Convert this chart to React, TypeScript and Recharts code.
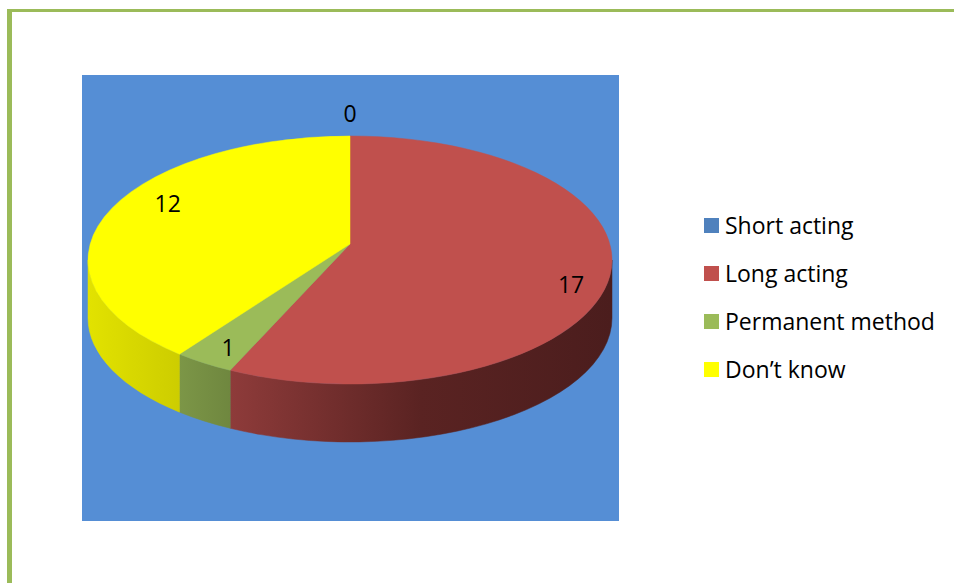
import React from "react";
import { PieChart, Pie, Legend } from "recharts";

const categories = ["Short acting", "Long acting", "Permanent method", "Don’t know"];
const counts = [0, 17, 1, 12];

const topColors = ["#4F81BD", "#C0504D", "#9BBB59", "#FFFF00"];
const wallStops = [
  ["#3A5F8C", "#2B476A"],
  ["#8E3B3A", "#5A2322", "#4B1D1D"],
  ["#7C9647", "#6F873F"],
  ["#E2E200", "#CDCD00"],
];

// label placement (radius factor, y nudge)
const labelRadius = [1.185, 0.85, 0.85, 0.76];
const labelNudge = [-6, 18, 4, -13];

const pieData = categories.map((name, i) => ({ name, value: counts[i] }));

const W = 954;
const H = 583;
const CX = 350;
const CY = 260;
const RX = 262;
const TILT = 124 / 262;
const PERSP = -0.129; // pulls the pie centre up, Excel-like perspective
const DEPTH = 58;

const rad = (a: number) => (a * Math.PI) / 180;

// map a point of the unit disc (a right, b towards viewer) onto the tilted ellipse
function project(cx: number, cy: number, rx: number, a: number, b: number) {
  const t = PERSP;
  const d = 1 + t * b;
  const a2 = (a * Math.sqrt(1 - t * t)) / d;
  const b2 = (b + t) / d;
  return { x: cx + rx * a2, y: cy + rx * TILT * b2, a2, b2 };
}

function rimPoint(cx: number, cy: number, rx: number, ang: number, k = 1) {
  return project(cx, cy, rx, k * Math.cos(rad(ang)), -k * Math.sin(rad(ang)));
}

function Slice3D(props: any) {
  const { cx, cy, outerRadius, startAngle, endAngle, index } = props;
  const hi = Math.max(startAngle, endAngle);
  const lo = Math.min(startAngle, endAngle);
  if (hi - lo < 0.01) return <g />;
  const rx = outerRadius;
  const ry = rx * TILT;
  const P = (a: number, dz = 0) => {
    const p = rimPoint(cx, cy, rx, a);
    return { ...p, s: `${p.x},${p.y + dz}` };
  };
  const paraAng = (p: any) => (Math.atan2(-p.b2, p.a2) * 180) / Math.PI;
  const p1 = P(hi);
  const p2 = P(lo);
  let span = (paraAng(p1) - paraAng(p2) + 720) % 360;
  if (hi - lo >= 359.99) span = 360;
  const large = span > 180 ? 1 : 0;
  const apex = project(cx, cy, rx, 0, 0);
  const top = `M${apex.x},${apex.y} L${p1.s} A${rx},${ry} 0 ${large} 1 ${p2.s} Z`;

  // front-facing part of the rim
  const edge = (Math.asin(Math.abs(PERSP)) * 180) / Math.PI;
  let wall: string | null = null;
  for (let k = -1; k <= 1; k++) {
    const s = Math.min(hi, 360 * k - edge);
    const e = Math.max(lo, -180 + edge + 360 * k);
    if (s > e) {
      const ps = P(s);
      const pe = P(e);
      wall = `M${ps.s} A${rx},${ry} 0 0 1 ${pe.s} L${P(e, DEPTH).s} A${rx},${ry} 0 0 0 ${P(s, DEPTH).s} Z`;
      break;
    }
  }
  const stops = wallStops[index];
  const gid = `wall-grad-${index}`;
  return (
    <g>
      <defs>
        <linearGradient id={gid} x1="0" y1="0" x2="1" y2="0">
          {stops.map((c, i) => (
            <stop key={i} offset={`${(i / (stops.length - 1)) * 100}%`} stopColor={c} />
          ))}
        </linearGradient>
      </defs>
      {wall && <path d={wall} fill={`url(#${gid})`} stroke={`url(#${gid})`} strokeWidth={0.5} />}
      <path d={top} fill={topColors[index]} stroke={topColors[index]} strokeWidth={0.5} />
    </g>
  );
}

function SliceLabel(props: any) {
  const { cx, cy, outerRadius, midAngle, index, value } = props;
  const p = rimPoint(cx, cy, outerRadius, midAngle, labelRadius[index]);
  return (
    <text
      x={p.x}
      y={p.y + labelNudge[index]}
      textAnchor="middle"
      dominantBaseline="central"
      fill="#000"
      fontSize={23}
      fontFamily="'Open Sans', sans-serif"
    >
      {value}
    </text>
  );
}

function LegendBox({ payload }: any) {
  const seen = new Set<string>();
  const items = (payload || [])
    .filter((e: any) => {
      if (seen.has(e.value)) return false;
      seen.add(e.value);
      return true;
    })
    .sort((a: any, b: any) => categories.indexOf(a.value) - categories.indexOf(b.value));
  return (
    <div style={{ fontFamily: "'Open Sans', sans-serif", fontSize: 23, color: "#000" }}>
      {items.map((entry: any) => {
        const i = categories.indexOf(entry.value);
        return (
          <div key={entry.value} style={{ height: 48, display: "flex", alignItems: "center" }}>
            <span style={{ width: 15, height: 15, background: topColors[i], marginRight: 6, flex: "none" }} />
            <span style={{ lineHeight: "48px", whiteSpace: "nowrap" }}>{entry.value}</span>
          </div>
        );
      })}
    </div>
  );
}

export default function App() {
  return (
    <div style={{ position: "absolute", left: 0, top: 0, width: W, height: H, background: "#fff", overflow: "hidden" }}>
      <div style={{ position: "absolute", left: 7, top: 9, width: W - 7, height: 3, background: "#9BBB59" }} />
      <div style={{ position: "absolute", left: 7, top: 9, width: 5, height: H - 9, background: "#9BBB59" }} />
      <div style={{ position: "absolute", left: 82, top: 75, width: 537, height: 446, background: "#558ED5" }} />
      <div style={{ position: "absolute", left: 0, top: 0 }}>
        <PieChart width={W} height={H} margin={{ top: 0, right: 0, bottom: 0, left: 0 }}>
          <Pie
            data={pieData}
            dataKey="value"
            nameKey="name"
            cx={CX}
            cy={CY}
            outerRadius={RX}
            startAngle={90}
            endAngle={-270}
            fill="none"
            stroke="none"
            isAnimationActive={false}
            labelLine={false}
            label={Slice3D}
          />
          <Pie
            data={pieData}
            dataKey="value"
            nameKey="name"
            cx={CX}
            cy={CY}
            outerRadius={RX}
            startAngle={90}
            endAngle={-270}
            fill="none"
            stroke="none"
            legendType="none"
            isAnimationActive={false}
            labelLine={false}
            label={SliceLabel}
          />
          <Legend
            layout="vertical"
            align="right"
            verticalAlign="top"
            wrapperStyle={{ left: 704, top: 201, width: 250 }}
            content={<LegendBox />}
          />
        </PieChart>
      </div>
    </div>
  );
}
